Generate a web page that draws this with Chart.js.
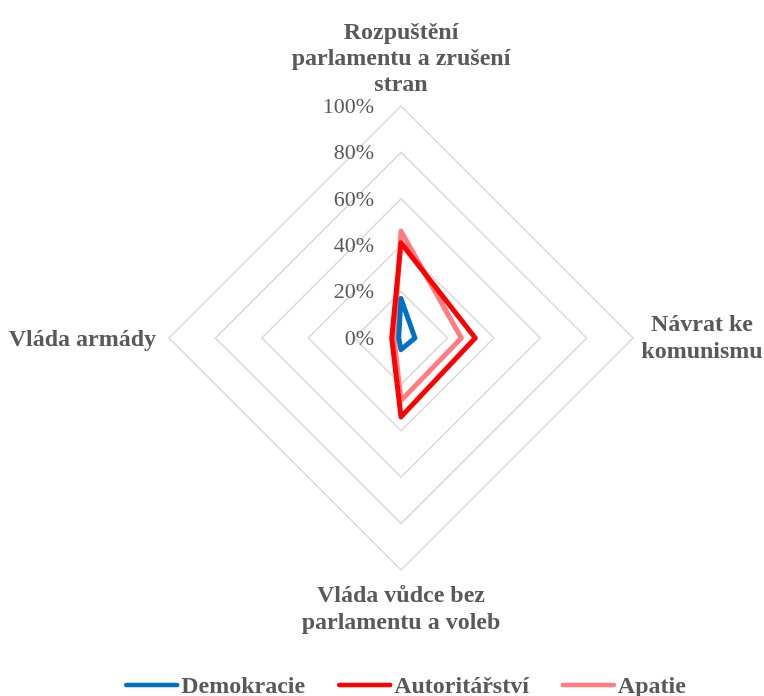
<!DOCTYPE html>
<html>
<head>
<meta charset="utf-8">
<script src="https://cdn.jsdelivr.net/npm/chart.js@4"></script>
<style>
  body { margin: 0; background: #fff; }
  canvas { display: block; }
</style>
</head>
<body>
<canvas id="graph" width="764" height="696"></canvas>
<script>
// categories (one entry per axis, split into lines like the original)
const categories = [
  ['Rozpuštění', 'parlamentu a zrušení', 'stran'],
  ['Návrat ke', 'komunismu'],
  ['Vláda vůdce bez', 'parlamentu a voleb'],
  ['Vláda armády']
];

// series values, in %
const demokracie = [17, 6, 5, 1];
const autoritarstvi = [41, 32, 34, 4];
const apatie = [46, 26, 27, 3];

const seriesNames = ['Demokracie', 'Autoritářství', 'Apatie'];

// scale ticks
const tickMax = 100;
const tickStep = 20;

const textColor = '#595959';
const serif = '"Liberation Serif", "Times New Roman", serif';

//draws tick labels to the left of the vertical axis
const tickLabels = {
  id: 'tickLabels',
  afterDraw(chart) {
    const ctx = chart.ctx;
    const scale = chart.scales.r;
    ctx.save();
    ctx.font = '22px ' + serif;
    ctx.fillStyle = textColor;
    ctx.textAlign = 'right';
    ctx.textBaseline = 'middle';
    scale.ticks.forEach(t => {
      const d = scale.getDistanceFromCenterForValue(t.value);
      ctx.fillText(t.label, scale.xCenter - 27, scale.yCenter - d + 1);
    });
    ctx.restore();
  }
};

//draws the category labels around the web
const axisLabels = {
  id: 'axisLabels',
  afterDraw(chart) {
    const ctx = chart.ctx;
    const scale = chart.scales.r;
    const r = scale.drawingArea;
    ctx.save();
    ctx.font = 'bold 24px ' + serif;
    ctx.fillStyle = textColor;
    ctx.textBaseline = 'alphabetic';
    chart.data.labels.forEach((lines, i) => {
      const p = scale.getPointPosition(i, r);
      lines.forEach((line, k) => {
        if (i === 0) {
          ctx.textAlign = 'center';
          ctx.fillText(line, p.x, p.y - 15 - (lines.length - 1 - k) * 26);
        } else if (i === 1) {
          ctx.textAlign = 'center';
          ctx.fillText(line, p.x + 69, p.y - 7 + k * 27);
        } else if (i === 2) {
          ctx.textAlign = 'center';
          ctx.fillText(line, p.x, p.y + 32 + k * 27);
        } else {
          ctx.textAlign = 'right';
          ctx.fillText(line, p.x - 13, p.y + 8 + k * 27);
        }
      });
    });
    ctx.restore();
  }
};

//legend at the bottom with thick line samples
const lineLegend = {
  id: 'lineLegend',
  afterDraw(chart) {
    const ctx = chart.ctx;
    const sample = 55, gapText = 2, gapItem = 32;
    const y = 685;
    ctx.save();
    ctx.font = 'bold 24px ' + serif;
    const ds = chart.data.datasets;
    const widths = ds.map(d => sample + gapText + ctx.measureText(d.label).width);
    const total = widths.reduce((a, b) => a + b, 0) + gapItem * (ds.length - 1);
    let x = 405 - total / 2;
    ds.forEach((d, i) => {
      ctx.strokeStyle = d.borderColor;
      ctx.lineWidth = 4.5;
      ctx.lineCap = 'round';
      ctx.beginPath();
      ctx.moveTo(x + 2, y);
      ctx.lineTo(x + sample - 2, y);
      ctx.stroke();
      ctx.fillStyle = textColor;
      ctx.textAlign = 'left';
      ctx.textBaseline = 'alphabetic';
      ctx.fillText(d.label, x + sample + gapText, y + 8);
      x += widths[i] + gapItem;
    });
    ctx.restore();
  }
};

function loadChart(element) {
  new Chart(element, {
    type: 'radar',
    data: {
      labels: categories,
      datasets: [{
        label: seriesNames[0],
        data: demokracie,
        borderColor: '#0070C0',
        order: 1
      }, {
        label: seriesNames[1],
        data: autoritarstvi,
        borderColor: '#FF0000',
        order: 0
      }, {
        label: seriesNames[2],
        data: apatie,
        borderColor: '#FF7C80',
        order: 2
      }]
    },
    options: {
      responsive: false,
      animation: false,
      events: [],
      layout: {
        padding: { left: 169, right: 131, top: 106, bottom: 126 }
      },
      elements: {
        line: {
          borderWidth: 5,
          fill: false,
          tension: 0,
          borderJoinStyle: 'round'
        },
        point: { radius: 0 }
      },
      scales: {
        r: {
          min: 0,
          max: tickMax,
          ticks: {
            stepSize: tickStep,
            display: false,
            callback: v => v + '%'
          },
          grid: { color: '#D9D9D9', lineWidth: 1.5 },
          angleLines: { display: false },
          pointLabels: { display: false }
        }
      },
      plugins: {
        legend: { display: false },
        tooltip: { enabled: false }
      }
    },
    plugins: [tickLabels, axisLabels, lineLegend]
  });
}

window.onload = function () {
  loadChart(document.querySelector('#graph'));
}
</script>
</body>
</html>
